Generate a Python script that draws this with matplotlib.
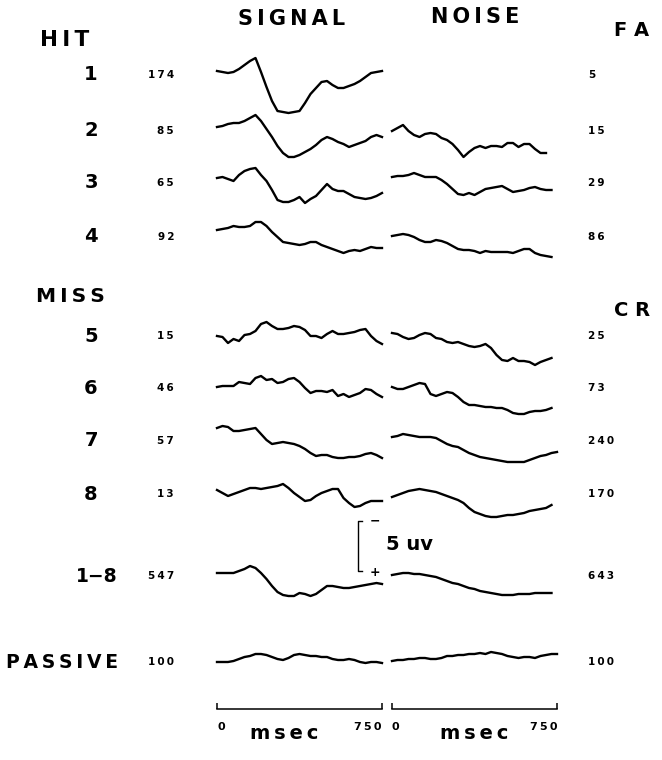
import numpy as np
import matplotlib
matplotlib.use("Agg")
import matplotlib.pyplot as plt

# averaged waveforms, sampled every 25 ms from stimulus onset
t_ms = np.arange(0, 751, 25)

row_names = ["1", "2", "3", "4", "5", "6", "7", "8", "1\u22128", "PASSIVE"]
n_signal = [174, 85, 65, 92, 15, 46, 57, 13, 547, 100]
n_noise = [5, 15, 29, 86, 25, 73, 240, 170, 643, 100]

# amplitudes in uV, negative plotted upward
signal_1 = [-0.4, -0.3, -0.2, -0.3, -0.6, -1.0, -1.4, -1.7, -0.3, 1.2, 2.6, 3.6, 3.7, 3.8, 3.7, 3.6,
            2.8, 1.9, 1.3, 0.7, 0.6, 1.0, 1.3, 1.3, 1.1, 0.9, 0.6, 0.2, -0.2, -0.3, -0.4]
signal_2 = [-0.4, -0.5, -0.7, -0.8, -0.8, -1.0, -1.3, -1.6, -1.0, -0.2, 0.6, 1.5, 2.2, 2.6, 2.6, 2.4,
            2.1, 1.8, 1.4, 0.9, 0.6, 0.8, 1.1, 1.3, 1.6, 1.4, 1.2, 1.0, 0.6, 0.4, 0.6]
signal_3 = [-0.5, -0.6, -0.4, -0.2, -0.8, -1.2, -1.4, -1.5, -0.8, -0.2, 0.7, 1.7, 1.9, 1.9, 1.7, 1.4,
            2.0, 1.6, 1.3, 0.7, 0.1, 0.6, 0.8, 0.8, 1.1, 1.4, 1.5, 1.6, 1.5, 1.3, 1.0]
signal_4 = [-0.7, -0.8, -0.9, -1.1, -1.0, -1.0, -1.1, -1.5, -1.5, -1.1, -0.5, 0.0, 0.5, 0.6, 0.7, 0.8,
            0.7, 0.5, 0.5, 0.8, 1.0, 1.2, 1.4, 1.6, 1.4, 1.3, 1.4, 1.2, 1.0, 1.1, 1.1]
signal_5 = [0.0, 0.1, 0.7, 0.3, 0.5, -0.1, -0.2, -0.5, -1.2, -1.4, -1.0, -0.7, -0.7, -0.8, -1.0, -0.9,
            -0.6, 0.0, 0.0, 0.2, -0.2, -0.5, -0.2, -0.2, -0.3, -0.4, -0.6, -0.7, 0.0, 0.5, 0.8]
signal_6 = [-0.1, -0.2, -0.2, -0.2, -0.6, -0.5, -0.4, -1.0, -1.2, -0.8, -0.9, -0.5, -0.6, -0.9, -1.0, -0.6,
            0.0, 0.5, 0.3, 0.3, 0.4, 0.2, 0.8, 0.6, 0.9, 0.7, 0.5, 0.1, 0.2, 0.6, 0.9]
signal_7 = [-1.3, -1.5, -1.4, -1.0, -1.0, -1.1, -1.2, -1.3, -0.7, -0.1, 0.3, 0.2, 0.1, 0.2, 0.3, 0.5,
            0.8, 1.2, 1.5, 1.4, 1.4, 1.6, 1.7, 1.7, 1.6, 1.6, 1.5, 1.3, 1.2, 1.4, 1.7]
signal_8 = [-0.4, -0.1, 0.2, 0.0, -0.2, -0.4, -0.6, -0.6, -0.5, -0.6, -0.7, -0.8, -1.0, -0.6, -0.1, 0.3,
            0.7, 0.6, 0.2, -0.1, -0.3, -0.5, -0.5, 0.4, 0.9, 1.3, 1.2, 0.9, 0.7, 0.7, 0.7]
signal_all = [-0.3, -0.3, -0.3, -0.3, -0.5, -0.7, -1.0, -0.8, -0.3, 0.3, 1.0, 1.6, 1.9, 2.0, 2.0, 1.7,
              1.8, 2.0, 1.8, 1.4, 1.0, 1.0, 1.1, 1.2, 1.2, 1.1, 1.0, 0.9, 0.8, 0.7, 0.8]
signal_passive = [0.0, 0.0, 0.0, -0.1, -0.3, -0.5, -0.6, -0.8, -0.8, -0.7, -0.5, -0.3, -0.2, -0.4, -0.7, -0.8,
                  -0.7, -0.6, -0.6, -0.5, -0.5, -0.3, -0.2, -0.2, -0.3, -0.2, 0.0, 0.1, 0.0, 0.0, 0.1]

nan = np.nan
noise_1 = []  # only 5 false alarms, no average
noise_2 = [0.0, -0.3, -0.6, 0.0, 0.4, 0.6, 0.3, 0.2, 0.3, 0.7, 0.9, 1.3, 1.9, 2.6, 2.1, 1.7,
           1.5, 1.7, 1.5, 1.5, 1.6, 1.2, 1.2, 1.6, 1.3, 1.3, 1.8, 2.2, 2.2, nan, nan]
noise_3 = [-0.6, -0.7, -0.7, -0.8, -1.0, -0.8, -0.6, -0.6, -0.6, -0.3, 0.1, 0.6, 1.1, 1.2, 1.0, 1.2,
           0.9, 0.6, 0.5, 0.4, 0.3, 0.6, 0.9, 0.8, 0.7, 0.5, 0.4, 0.6, 0.7, 0.7, nan]
noise_4 = [-0.1, -0.2, -0.3, -0.2, 0.0, 0.3, 0.5, 0.5, 0.3, 0.4, 0.6, 0.9, 1.2, 1.3, 1.3, 1.4,
           1.6, 1.4, 1.5, 1.5, 1.5, 1.5, 1.6, 1.4, 1.2, 1.2, 1.6, 1.8, 1.9, 2.0, nan]
noise_5 = [-0.3, -0.2, 0.1, 0.3, 0.2, -0.1, -0.3, -0.2, 0.2, 0.3, 0.6, 0.7, 0.6, 0.8, 1.0, 1.1,
           1.0, 0.8, 1.2, 1.9, 2.4, 2.5, 2.2, 2.5, 2.5, 2.6, 2.9, 2.6, 2.4, 2.2, nan]
noise_6 = [-0.1, 0.1, 0.1, -0.1, -0.3, -0.5, -0.4, 0.6, 0.8, 0.6, 0.4, 0.5, 0.9, 1.4, 1.7, 1.7,
           1.8, 1.9, 1.9, 2.0, 2.0, 2.2, 2.5, 2.6, 2.6, 2.4, 2.3, 2.3, 2.2, 2.0, nan]
noise_7 = [-0.4, -0.5, -0.7, -0.6, -0.5, -0.4, -0.4, -0.4, -0.3, 0.0, 0.3, 0.5, 0.6, 0.9, 1.2, 1.4,
           1.6, 1.7, 1.8, 1.9, 2.0, 2.1, 2.1, 2.1, 2.1, 1.9, 1.7, 1.5, 1.4, 1.2, 1.1]
noise_8 = [0.3, 0.1, -0.1, -0.3, -0.4, -0.5, -0.4, -0.3, -0.2, 0.0, 0.2, 0.4, 0.6, 0.9, 1.4, 1.8,
           2.0, 2.2, 2.3, 2.3, 2.2, 2.1, 2.1, 2.0, 1.9, 1.7, 1.6, 1.5, 1.4, 1.1, nan]
noise_all = [-0.1, -0.2, -0.3, -0.3, -0.2, -0.2, -0.1, 0.0, 0.1, 0.3, 0.5, 0.7, 0.8, 1.0, 1.2, 1.3,
             1.5, 1.6, 1.7, 1.8, 1.9, 1.9, 1.9, 1.8, 1.8, 1.8, 1.7, 1.7, 1.7, 1.7, nan]
noise_passive = [-0.1, -0.2, -0.2, -0.3, -0.3, -0.4, -0.4, -0.3, -0.3, -0.4, -0.6, -0.6, -0.7, -0.7, -0.8, -0.8,
                 -0.9, -0.8, -1.0, -0.9, -0.8, -0.6, -0.5, -0.4, -0.5, -0.5, -0.4, -0.6, -0.7, -0.8, -0.8]

signal_traces = [signal_1, signal_2, signal_3, signal_4, signal_5, signal_6, signal_7, signal_8,
                 signal_all, signal_passive]
noise_traces = [noise_1, noise_2, noise_3, noise_4, noise_5, noise_6, noise_7, noise_8,
                noise_all, noise_passive]

# page layout in pixels
W, H = 662, 760
row_y = [75, 131, 183, 237, 336, 388, 441, 494, 576, 662]
sig_x0, noise_x0, col_w = 217, 392, 165
px_per_uv = 10

fig = plt.figure(figsize=(W / 100, H / 100), dpi=100)
bg = fig.add_axes([0, 0, 1, 1])
bg.set_xlim(0, W)
bg.set_ylim(H, 0)
bg.axis("off")


def spaced(s, sep="\u2009"):
    # loose letter spacing like the typed lettering
    return sep.join(s)


def trace_axes(x0, yc, half=5):
    ax = fig.add_axes([x0 / W, (H - yc - half * px_per_uv) / H, col_w / W, 2 * half * px_per_uv / H])
    ax.set_xlim(0, 750)
    ax.set_ylim(half, -half)
    ax.axis("off")
    return ax


bold = dict(fontweight="bold", color="black", family="DejaVu Sans")

for i, yc in enumerate(row_y):
    for x0, vals in ((sig_x0, signal_traces[i]), (noise_x0, noise_traces[i])):
        if len(vals) == 0:
            continue
        ax = trace_axes(x0, yc)
        ax.plot(t_ms, vals, color="black", lw=1.7, clip_on=False, solid_joinstyle="round")

    name = row_names[i]
    if len(name) == 1:
        bg.text(91, yc, name, fontsize=14, ha="center", va="center", **bold)
    else:
        bg.text(118, yc, spaced(name) if name == "PASSIVE" else name,
                fontsize=13.5, ha="right", va="center", **bold)
    bg.text(174, yc, spaced(str(n_signal[i])), fontsize=7.5, ha="right", va="center", **bold)
    bg.text(588, yc, spaced(str(n_noise[i])), fontsize=7.5, ha="left", va="center", **bold)

# column and group headings
bg.text(292, 19, spaced("SIGNAL"), fontsize=15, ha="center", va="center", **bold)
bg.text(475, 17, spaced("NOISE"), fontsize=15, ha="center", va="center", **bold)
bg.text(65, 40, spaced("HIT"), fontsize=15.5, ha="center", va="center", **bold)
bg.text(70, 296, spaced("MISS"), fontsize=14.5, ha="center", va="center", **bold)
bg.text(632, 30, "F A", fontsize=14, ha="center", va="center", **bold)
bg.text(632, 311, "C R", fontsize=14, ha="center", va="center", **bold)

# 5 uV calibration bracket next to the grand average
cal = trace_axes(sig_x0, row_y[8])
bx = 641
cal.plot([bx + 20, bx, bx, bx + 20], [-5.5, -5.5, -0.5, -0.5], color="black", lw=1.0, clip_on=False)
cal.text(bx + 75, -5.5, "\u2212", fontsize=9, ha="center", va="center", **bold)
cal.text(bx + 75, -0.3, "+", fontsize=9, ha="center", va="center", **bold)
cal.text(bx + 125, -3.2, "5 uv", fontsize=14, ha="left", va="center", **bold)

# time axes under both columns
for x0, label_x in ((sig_x0, 0.41), (noise_x0, 0.5)):
    ax = fig.add_axes([x0 / W, (H - 709) / H, col_w / W, 0.001])
    ax.set_xlim(0, 750)
    for s in ("top", "left", "right"):
        ax.spines[s].set_visible(False)
    ax.spines["bottom"].set_linewidth(1.1)
    ax.set_yticks([])
    ax.set_xticks([0, 750])
    ax.tick_params(axis="x", direction="in", length=4, width=1.1, pad=9)
    labels = ax.set_xticklabels(["0", spaced("750")], fontsize=8, fontweight="bold")
    labels[0].set_ha("left")
    labels[1].set_ha("right")
    ax.set_xlabel(spaced("msec"), fontsize=14, fontweight="bold")
    ax.xaxis.set_label_coords(label_x, -20.0)

fig.savefig("out.png", dpi=100, facecolor="white")
